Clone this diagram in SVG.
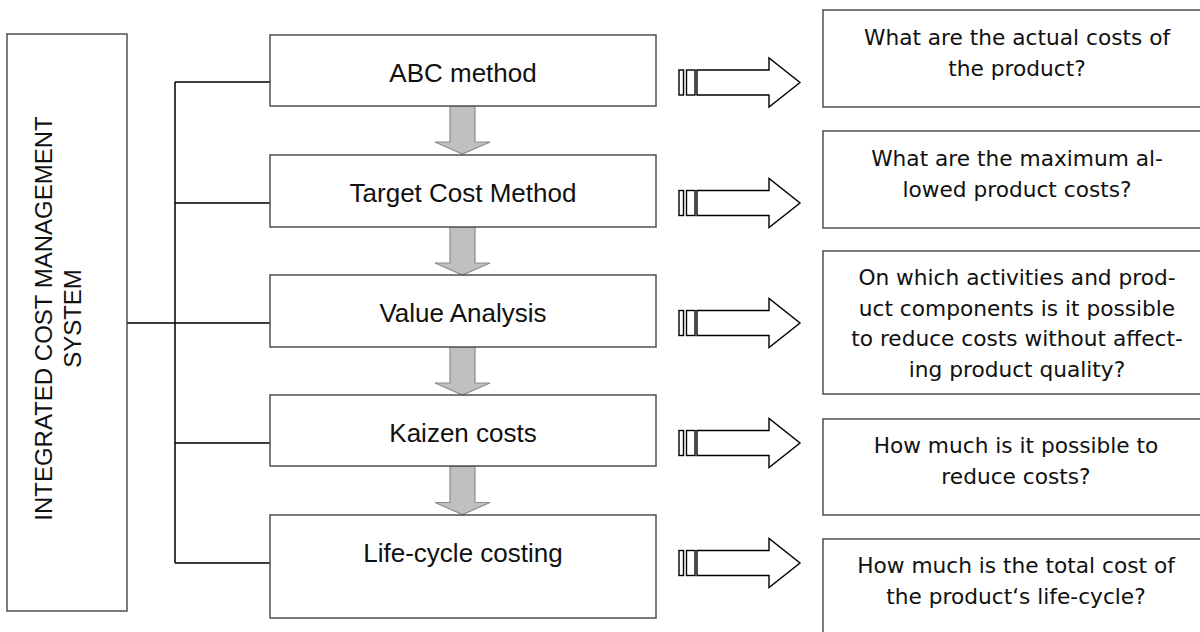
<svg xmlns="http://www.w3.org/2000/svg" width="1200" height="632" viewBox="0 0 1200 632">
<style>
.box{fill:#fff;stroke:#444;stroke-width:1.4}
.conn{fill:none;stroke:#000;stroke-width:1.5}
.down{fill:#c0c0c0;stroke:#8c8c8c;stroke-width:1.2}
.blk{fill:#fff;stroke:#000;stroke-width:1.4}
.mid{font-family:"Liberation Sans",Arial,sans-serif;font-size:26px;fill:#111;text-anchor:middle}
.side{font-family:"Liberation Sans",Arial,sans-serif;font-size:24px;fill:#111;text-anchor:middle}
.q{font-family:"DejaVu Sans",sans-serif;font-size:21.7px;fill:#111;text-anchor:middle}
</style>
<defs>
<g id="blockArrow">
<rect class="blk" x="679" y="-12.5" width="4.5" height="25"/>
<rect class="blk" x="686.5" y="-12.5" width="8.5" height="25"/>
<polygon class="blk" points="697,-12.5 769,-12.5 769,-24.5 800,0 769,24.5 769,12.5 697,12.5"/>
</g>
<polygon id="downArrow" class="down" points="450,0 475,0 475,36 490,36 462.5,48 435,36 450,36"/>
</defs>

<g id="connectors">
<path class="conn" d="M127,323 H175 M175,82 V563 M175,82 H270 M175,203 H270 M175,323 H270 M175,443 H270 M175,563 H270"/>
<use href="#downArrow" y="106"/>
<use href="#downArrow" y="227"/>
<use href="#downArrow" y="347"/>
<use href="#downArrow" y="466.5"/>
<use href="#blockArrow" y="82.5"/>
<use href="#blockArrow" y="203"/>
<use href="#blockArrow" y="323"/>
<use href="#blockArrow" y="443"/>
<use href="#blockArrow" y="563"/>
</g>

<g id="system">
<rect class="box" x="7" y="34" width="120" height="577"/>
<text class="side" transform="translate(52,318.5) rotate(-90)">INTEGRATED COST MANAGEMENT</text>
<text class="side" transform="translate(81,318.5) rotate(-90)">SYSTEM</text>
</g>

<g id="abc">
<rect class="box" x="270" y="35" width="386" height="71"/>
<text class="mid" x="463" y="81.5">ABC method</text>
</g>
<g id="target">
<rect class="box" x="270" y="155" width="386" height="72"/>
<text class="mid" x="463" y="202">Target Cost Method</text>
</g>
<g id="value">
<rect class="box" x="270" y="275" width="386" height="72"/>
<text class="mid" x="463" y="322">Value Analysis</text>
</g>
<g id="kaizen">
<rect class="box" x="270" y="395" width="386" height="71"/>
<text class="mid" x="463" y="442">Kaizen costs</text>
</g>
<g id="lifecycle">
<rect class="box" x="270" y="515" width="386" height="103"/>
<text class="mid" x="463" y="562">Life-cycle costing</text>
</g>

<g id="q1">
<rect class="box" x="823" y="10" width="400" height="97"/>
<text class="q" x="1017" y="45">What are the actual costs of</text>
<text class="q" x="1017" y="75.5">the product?</text>
</g>
<g id="q2">
<rect class="box" x="823" y="131" width="400" height="97"/>
<text class="q" x="1017" y="166">What are the maximum al-</text>
<text class="q" x="1017" y="196.5">lowed product costs?</text>
</g>
<g id="q3">
<rect class="box" x="823" y="251" width="400" height="143"/>
<text class="q" x="1017" y="285">On which activities and prod-</text>
<text class="q" x="1017" y="315.5">uct components is it possible</text>
<text class="q" x="1017" y="346">to reduce costs without affect-</text>
<text class="q" x="1017" y="376.5">ing product quality?</text>
</g>
<g id="q4">
<rect class="box" x="823" y="419" width="400" height="96"/>
<text class="q" x="1016" y="453">How much is it possible to</text>
<text class="q" x="1016" y="483.5">reduce costs?</text>
</g>
<g id="q5">
<rect class="box" x="823" y="539" width="400" height="110"/>
<text class="q" x="1016" y="573">How much is the total cost of</text>
<text class="q" x="1016" y="604">the product‘s life-cycle?</text>
</g>
</svg>
